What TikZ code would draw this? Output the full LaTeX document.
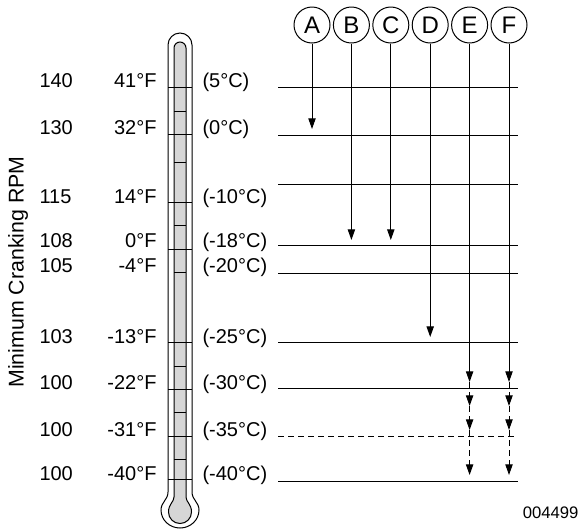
\documentclass[tikz,border=0pt]{standalone}
\usepackage{fontspec}
\setmainfont{Liberation Sans}
\usetikzlibrary{arrows.meta,positioning}
\definecolor{tubegray}{HTML}{D6D6D6}

\begin{document}
\begin{tikzpicture}[x=0.75pt,y=-0.75pt,>={Triangle[length=8pt,width=5.5pt]},line width=0.75pt,
 lbl/.style={font=\fontsize{15}{18}\selectfont,inner sep=0pt},
 rpm/.style={lbl,anchor=base west},
 degf/.style={lbl,anchor=base east},
 degc/.style={lbl,anchor=base west},
 case/.style={draw,circle,minimum size=27pt,inner sep=0pt,font=\fontsize{18}{20}\selectfont},
 dashline/.style={dash pattern=on 4.5pt off 3pt}]
\useasboundingbox (0,0) rectangle (581,529);
% thermometer
\draw[fill=white] (168,492) -- (168,45) arc[start angle=180,end angle=360,radius=12] -- (192,492)
 .. controls (192,500) and (199,502) .. (199,510) arc[start angle=0,end angle=180,x radius=19,y radius=18]
 .. controls (161,502) and (168,500) .. (168,492) -- cycle;
\draw[fill=tubegray] (174,497) -- (174,48) arc[start angle=180,end angle=360,radius=6] -- (186,497)
 .. controls (186,502) and (191.5,504) .. (191.5,512) arc[start angle=0,end angle=180,radius=11.5]
 .. controls (168.5,504) and (174,502) .. (174,497) -- cycle;
\foreach \y in {87,134,202,249,342,389,436,479} \draw (168,\y) -- (192,\y);
\foreach \y in {111,162,225,272,366,412,459} \draw (174,\y) -- (186,\y);
% scale text
\node[lbl,rotate=90,font=\fontsize{16}{18}\selectfont] (ylab) at (18,272) {Minimum Cranking RPM};
\node[rpm] (r140) at (39,87) {140};
\node[rpm] (r130) at (39,134) {130};
\node[rpm] (r115) at (39,203) {115};
\node[rpm] (r108) at (39,247) {108};
\node[rpm] (r105) at (39,272) {105};
\node[rpm] (r103) at (39,343) {103};
\node[rpm] (r100a) at (39,389) {100};
\node[rpm] (r100b) at (39,436) {100};
\node[rpm] (r100c) at (39,480) {100};
\node[degf] (f41) at (157,87) {41°F};
\node[degf] (f32) at (157,134) {32°F};
\node[degf] (f14) at (157,203) {14°F};
\node[degf] (f0) at (157,247) {0°F};
\node[degf] (fm4) at (157,272) {-4°F};
\node[degf] (fm13) at (157,343) {-13°F};
\node[degf] (fm22) at (157,389) {-22°F};
\node[degf] (fm31) at (157,436) {-31°F};
\node[degf] (fm40) at (157,480) {-40°F};
\node[degc] (c5) at (202,87) {(5°C)};
\node[degc] (c0) at (202,134) {(0°C)};
\node[degc] (cm10) at (202,203) {(-10°C)};
\node[degc] (cm18) at (202,247) {(-18°C)};
\node[degc] (cm20) at (202,272) {(-20°C)};
\node[degc] (cm25) at (202,343) {(-25°C)};
\node[degc] (cm30) at (202,389) {(-30°C)};
\node[degc] (cm35) at (202,436) {(-35°C)};
\node[degc] (cm40) at (202,480) {(-40°C)};
% temperature rows
\coordinate (l5w) at (278,87);   \coordinate (l5e) at (518,87);
\coordinate (l0w) at (278,135);  \coordinate (l0e) at (518,135);
\coordinate (l10w) at (278,184); \coordinate (l10e) at (518,184);
\coordinate (l18w) at (278,245); \coordinate (l18e) at (518,245);
\coordinate (l20w) at (278,273); \coordinate (l20e) at (518,273);
\coordinate (l25w) at (278,342); \coordinate (l25e) at (518,342);
\coordinate (l30w) at (278,388); \coordinate (l30e) at (518,388);
\coordinate (l35w) at (278,436); \coordinate (l35e) at (518,436);
\coordinate (l40w) at (278,481); \coordinate (l40e) at (518,481);
\draw (l5w) -- (l5e);
\draw (l0w) -- (l0e);
\draw (l10w) -- (l10e);
\draw (l18w) -- (l18e);
\draw (l20w) -- (l20e);
\draw (l25w) -- (l25e);
\draw (l30w) -- (l30e);
\draw[dashline] (l35w) -- (l35e);
\draw (l40w) -- (l40e);
% cases
\node[case] (a) at (312,25) {A};
\node[case,right=1.8pt of a] (b) {B};
\node[case,right=1.8pt of b] (c) {C};
\node[case,right=1.8pt of c] (d) {D};
\node[case,right=1.8pt of d] (e) {E};
\node[case,right=1.8pt of e] (f) {F};
\coordinate (a1) at (a |- 0,129);
\coordinate (b1) at (b |- 0,240);
\coordinate (c1) at (c |- 0,240);
\coordinate (d1) at (d |- 0,337);
\coordinate (e1) at (e |- 0,382);
\coordinate (e2) at (e |- 0,406);
\coordinate (e3) at (e |- 0,430);
\coordinate (e4) at (e |- 0,475);
\coordinate (f1) at (f |- 0,382);
\coordinate (f2) at (f |- 0,406);
\coordinate (f3) at (f |- 0,430);
\coordinate (f4) at (f |- 0,475);
\draw[->] (a) -- (a1);
\draw[->] (b) -- (b1);
\draw[->] (c) -- (c1);
\draw[->] (d) -- (d1);
\draw[->] (e) -- (e1);
\draw[->,dashline] (e1) -- (e2);
\draw[->,dashline] (e2) -- (e3);
\draw[->,dashline] (e3) -- (e4);
\draw[->] (f) -- (f1);
\draw[->,dashline] (f1) -- (f2);
\draw[->,dashline] (f2) -- (f3);
\draw[->,dashline] (f3) -- (f4);
\node[font=\fontsize{12.5}{14}\selectfont,anchor=base east,inner sep=0pt] (code) at (579,518) {004499};
\end{tikzpicture}
\end{document}
